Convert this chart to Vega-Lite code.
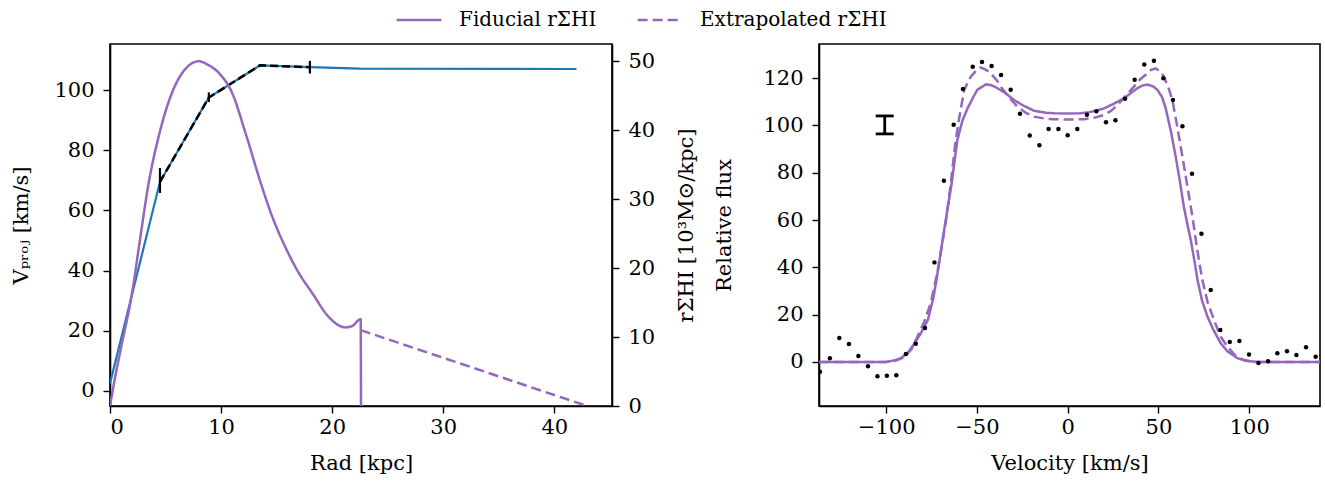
{
  "$schema": "https://vega.github.io/schema/vega-lite/v6.json",
  "background": "white",
  "padding": {"left": 10, "top": -4, "right": 5, "bottom": 0},
  "config": {
    "font": "DejaVu Serif",
    "view": {"stroke": "black", "strokeWidth": 1.6},
    "axis": {"domainColor": "black", "domainWidth": 1.6, "tickColor": "black", "tickWidth": 1.4, "tickSize": 7, "labelFont": "DejaVu Serif", "labelFontSize": 21, "labelColor": "black", "titleFont": "DejaVu Serif", "titleFontSize": 21, "titleFontWeight": "normal", "titleColor": "black", "grid": false, "labelPadding": 9, "titlePadding": 20},
    "axisX": {"labelPadding": 3},
    "concat": {"spacing": 15}
  },
  "datasets": {
    "vrot": [
      {"r": 0, "v": 2.5}, {"r": 4.5, "v": 69.5}, {"r": 8.9, "v": 97.5}, {"r": 13.5, "v": 108.2}, {"r": 18.0, "v": 107.6}, {"r": 22.5, "v": 107.1}, {"r": 42.0, "v": 107.0}
    ],
    "obsrot": [
      {"r": 4.5, "v": 69.5, "lo": 65.8, "hi": 74.1},
      {"r": 8.9, "v": 97.5, "lo": 96.0, "hi": 99.2},
      {"r": 13.5, "v": 108.2, "lo": 107.8, "hi": 108.6},
      {"r": 18.0, "v": 107.6, "lo": 105.5, "hi": 109.7}
    ],
    "sigma": [
      {"type": "Fiducial  rΣHI", "r": 0, "s": 0},
      {"type": "Fiducial  rΣHI", "r": 0.5, "s": 4.5},
      {"type": "Fiducial  rΣHI", "r": 1.0, "s": 8.5},
      {"type": "Fiducial  rΣHI", "r": 2.0, "s": 16.5},
      {"type": "Fiducial  rΣHI", "r": 2.6, "s": 23.0},
      {"type": "Fiducial  rΣHI", "r": 3.5, "s": 32.5},
      {"type": "Fiducial  rΣHI", "r": 4.4, "s": 39.2},
      {"type": "Fiducial  rΣHI", "r": 5.6, "s": 45.5},
      {"type": "Fiducial  rΣHI", "r": 6.8, "s": 48.9},
      {"type": "Fiducial  rΣHI", "r": 8.0, "s": 50.0},
      {"type": "Fiducial  rΣHI", "r": 8.8, "s": 49.5},
      {"type": "Fiducial  rΣHI", "r": 9.8, "s": 48.3},
      {"type": "Fiducial  rΣHI", "r": 11.0, "s": 45.4},
      {"type": "Fiducial  rΣHI", "r": 12.2, "s": 39.6},
      {"type": "Fiducial  rΣHI", "r": 13.7, "s": 31.7},
      {"type": "Fiducial  rΣHI", "r": 14.6, "s": 27.5},
      {"type": "Fiducial  rΣHI", "r": 15.8, "s": 23.0},
      {"type": "Fiducial  rΣHI", "r": 17.0, "s": 19.3},
      {"type": "Fiducial  rΣHI", "r": 18.2, "s": 16.4},
      {"type": "Fiducial  rΣHI", "r": 19.7, "s": 12.9},
      {"type": "Fiducial  rΣHI", "r": 20.6, "s": 11.7},
      {"type": "Fiducial  rΣHI", "r": 21.2, "s": 11.4},
      {"type": "Fiducial  rΣHI", "r": 21.8, "s": 11.6},
      {"type": "Fiducial  rΣHI", "r": 22.57, "s": 12.6},
      {"type": "Fiducial  rΣHI", "r": 22.6, "s": 0},
      {"type": "Extrapolated rΣHI", "r": 22.57, "s": 11.0},
      {"type": "Extrapolated rΣHI", "r": 42.96, "s": 0}
    ],
    "fid": [
      {"v": -137, "f": 0}, {"v": -100, "f": 0}, {"v": -95, "f": 0.8}, {"v": -92, "f": 1.6}, {"v": -88, "f": 4}, {"v": -85, "f": 7.2}, {"v": -81, "f": 12}, {"v": -77, "f": 17.8}, {"v": -74, "f": 27}, {"v": -72, "f": 36}, {"v": -70, "f": 46}, {"v": -68, "f": 56}, {"v": -64, "f": 75}, {"v": -60.8, "f": 93.8}, {"v": -58, "f": 102}, {"v": -55.3, "f": 107}, {"v": -52, "f": 112}, {"v": -49.8, "f": 115}, {"v": -45, "f": 117.4}, {"v": -42, "f": 117}, {"v": -38.7, "f": 115.7}, {"v": -34, "f": 113.5}, {"v": -29.6, "f": 110.7}, {"v": -24, "f": 108.2}, {"v": -18.6, "f": 106.2}, {"v": -12, "f": 105.3}, {"v": -7.5, "f": 105.1}, {"v": 0, "f": 105}, {"v": 7, "f": 105.1}, {"v": 12, "f": 105.6}, {"v": 16, "f": 106.3}, {"v": 20, "f": 107.2}, {"v": 25, "f": 109}, {"v": 31, "f": 111.4}, {"v": 35, "f": 113.8}, {"v": 38.4, "f": 115.7}, {"v": 41, "f": 116.8}, {"v": 43.9, "f": 117.3}, {"v": 47, "f": 116.5}, {"v": 49.4, "f": 115}, {"v": 52, "f": 112}, {"v": 54, "f": 107.2}, {"v": 57, "f": 97}, {"v": 59.5, "f": 86.8}, {"v": 62, "f": 75.5}, {"v": 64, "f": 65.6}, {"v": 66, "f": 58}, {"v": 67.8, "f": 51.6}, {"v": 70, "f": 42}, {"v": 71.5, "f": 34.7}, {"v": 74, "f": 26}, {"v": 77, "f": 19.2}, {"v": 80, "f": 14}, {"v": 84.3, "f": 7.9}, {"v": 88, "f": 4.5}, {"v": 93.5, "f": 1.6}, {"v": 98, "f": 0.5}, {"v": 104.5, "f": 0}, {"v": 139, "f": 0}
    ],
    "ext": [
      {"v": -137, "f": 0}, {"v": -100, "f": 0}, {"v": -95, "f": 0.5}, {"v": -90, "f": 2}, {"v": -86, "f": 5.5}, {"v": -82.8, "f": 10.7}, {"v": -79, "f": 17}, {"v": -75.5, "f": 24.8}, {"v": -72, "f": 37}, {"v": -70, "f": 46}, {"v": -67, "f": 60}, {"v": -64, "f": 78}, {"v": -62, "f": 92}, {"v": -60, "f": 102}, {"v": -57, "f": 115}, {"v": -53.4, "f": 120.6}, {"v": -50, "f": 123.5}, {"v": -47.9, "f": 124.5}, {"v": -45, "f": 123.5}, {"v": -42.4, "f": 122}, {"v": -39, "f": 119}, {"v": -36.9, "f": 116.4}, {"v": -32, "f": 111.5}, {"v": -27.7, "f": 107.9}, {"v": -23, "f": 105.3}, {"v": -18.6, "f": 103.7}, {"v": -12, "f": 102.8}, {"v": -7.5, "f": 102.6}, {"v": 0, "f": 102.5}, {"v": 9, "f": 102.6}, {"v": 15, "f": 103.3}, {"v": 20, "f": 104.4}, {"v": 24, "f": 106.2}, {"v": 27.4, "f": 108.6}, {"v": 32, "f": 112.5}, {"v": 36.5, "f": 116.4}, {"v": 40, "f": 119.5}, {"v": 43.9, "f": 122}, {"v": 46, "f": 123.5}, {"v": 48.5, "f": 124.1}, {"v": 51, "f": 122.8}, {"v": 53, "f": 120.6}, {"v": 55.5, "f": 116}, {"v": 57.7, "f": 110.7}, {"v": 60, "f": 101}, {"v": 63.2, "f": 86.8}, {"v": 66, "f": 74}, {"v": 68.7, "f": 61.5}, {"v": 70.5, "f": 52}, {"v": 72.5, "f": 42}, {"v": 74.2, "f": 34.7}, {"v": 77, "f": 25.5}, {"v": 80.6, "f": 17.8}, {"v": 84, "f": 11}, {"v": 88, "f": 6.5}, {"v": 92, "f": 3}, {"v": 97, "f": 0.8}, {"v": 103, "f": 0}, {"v": 139, "f": 0}
    ],
    "obs": [
      {"v": -136.5, "f": -4.1}, {"v": -131.0, "f": 1.6}, {"v": -125.8, "f": 10.1}, {"v": -120.5, "f": 7.6}, {"v": -115.3, "f": 2.5}, {"v": -110.0, "f": -1.8}, {"v": -104.8, "f": -6.0}, {"v": -99.6, "f": -5.8}, {"v": -94.4, "f": -5.6}, {"v": -89.1, "f": 3.4}, {"v": -83.7, "f": 7.7}, {"v": -78.6, "f": 14.4}, {"v": -73.4, "f": 42.1}, {"v": -68.2, "f": 76.6}, {"v": -62.8, "f": 100.3}, {"v": -57.7, "f": 115.4}, {"v": -52.3, "f": 124.8}, {"v": -47.2, "f": 126.8}, {"v": -41.9, "f": 125.1}, {"v": -36.7, "f": 121.3}, {"v": -31.4, "f": 115.1}, {"v": -26.3, "f": 104.9}, {"v": -20.9, "f": 95.7}, {"v": -15.6, "f": 91.6}, {"v": -10.5, "f": 98.5}, {"v": -5.1, "f": 98.5}, {"v": 0, "f": 95.8}, {"v": 5.3, "f": 98.5}, {"v": 10.6, "f": 104.5}, {"v": 15.8, "f": 106.0}, {"v": 21.1, "f": 101.3}, {"v": 26.3, "f": 102.2}, {"v": 31.6, "f": 111.3}, {"v": 36.9, "f": 119.3}, {"v": 42.2, "f": 125.7}, {"v": 47.5, "f": 127.3}, {"v": 52.7, "f": 119.9}, {"v": 58.0, "f": 110.7}, {"v": 63.2, "f": 99.6}, {"v": 68.5, "f": 79.6}, {"v": 73.7, "f": 54.2}, {"v": 78.8, "f": 30.4}, {"v": 84.1, "f": 13.5}, {"v": 89.3, "f": 8.5}, {"v": 94.6, "f": 8.9}, {"v": 99.9, "f": 3.2}, {"v": 105.1, "f": -0.4}, {"v": 110.4, "f": 0.3}, {"v": 115.5, "f": 3.7}, {"v": 120.8, "f": 4.5}, {"v": 126.0, "f": 3.0}, {"v": 131.3, "f": 6.2}, {"v": 136.6, "f": 2.2}
    ],
    "ebar": [{"v": -100.8, "lo": 96.4, "hi": 104.0}],
    "ecap": [{"v": -100.8, "f": 96.4}, {"v": -100.8, "f": 104.0}]
  },
  "hconcat": [
    {
      "width": 502,
      "height": 362,
      "layer": [
        {
          "layer": [
            {
              "data": {"name": "vrot"},
              "mark": {"type": "line", "color": "#1f77b4", "strokeWidth": 2.2, "clip": true},
              "encoding": {
                "x": {"field": "r", "type": "quantitative", "scale": {"domain": [0, 45.2], "nice": false, "zero": false}, "axis": {"values": [0, 10, 20, 30, 40], "title": "Rad [kpc]", "titlePadding": 15}},
                "y": {"field": "v", "type": "quantitative", "scale": {"domain": [-5, 115.3], "nice": false, "zero": false}, "axis": {"orient": "left", "values": [0, 20, 40, 60, 80, 100], "title": "Vₚᵣₒⱼ [km/s]", "titlePadding": 22}}
              }
            },
            {
              "data": {"name": "obsrot"},
              "mark": {"type": "line", "color": "black", "strokeWidth": 2.5, "strokeDash": [8, 4]},
              "encoding": {
                "x": {"field": "r", "type": "quantitative"},
                "y": {"field": "v", "type": "quantitative"}
              }
            },
            {
              "data": {"name": "obsrot"},
              "mark": {"type": "rule", "color": "black", "strokeWidth": 2.2},
              "encoding": {
                "x": {"field": "r", "type": "quantitative"},
                "y": {"field": "lo", "type": "quantitative"},
                "y2": {"field": "hi"}
              }
            }
          ]
        },
        {
          "data": {"name": "sigma"},
          "mark": {"type": "line", "color": "#9467bd", "strokeWidth": 2.5, "clip": true, "interpolate": "monotone"},
          "encoding": {
            "x": {"field": "r", "type": "quantitative"},
            "y": {"field": "s", "type": "quantitative", "scale": {"domain": [0, 52.5], "nice": false}, "axis": {"orient": "right", "values": [0, 10, 20, 30, 40, 50], "title": "rΣHI [10³M⊙/kpc]", "titleAngle": 270, "titleBaseline": "top", "titlePadding": 21}},
            "strokeDash": {
              "field": "type", "type": "nominal",
              "scale": {"domain": ["Fiducial  rΣHI", "Extrapolated rΣHI"], "range": [[1, 0], [10, 5]]},
              "legend": {"title": null, "orient": "none", "legendX": 285, "legendY": -48, "padding": 0, "direction": "horizontal", "symbolType": "stroke", "symbolSize": 2000, "symbolStrokeWidth": 2.5, "symbolStrokeColor": "#9467bd", "labelFont": "DejaVu Serif", "labelFontSize": 20, "labelColor": "black", "labelOffset": 16, "labelLimit": 400, "columnPadding": 29}
            }
          }
        }
      ],
      "resolve": {"scale": {"y": "independent"}}
    },
    {
      "width": 501,
      "height": 362,
      "layer": [
        {
          "data": {"name": "fid"},
          "mark": {"type": "line", "color": "#9467bd", "strokeWidth": 2.5, "clip": true},
          "encoding": {
            "x": {"field": "v", "type": "quantitative", "scale": {"domain": [-137, 139], "nice": false, "zero": false}, "axis": {"values": [-100, -50, 0, 50, 100], "title": "Velocity [km/s]", "titlePadding": 15}},
            "y": {"field": "f", "type": "quantitative", "scale": {"domain": [-18.6, 134.4], "nice": false, "zero": false}, "axis": {"values": [0, 20, 40, 60, 80, 100, 120], "title": "Relative flux", "titlePadding": 28}}
          }
        },
        {
          "data": {"name": "ext"},
          "mark": {"type": "line", "color": "#9467bd", "strokeWidth": 2.5, "strokeDash": [10, 5], "clip": true},
          "encoding": {
            "x": {"field": "v", "type": "quantitative"},
            "y": {"field": "f", "type": "quantitative"}
          }
        },
        {
          "data": {"name": "obs"},
          "mark": {"type": "circle", "color": "black", "size": 20, "opacity": 1, "clip": true},
          "encoding": {
            "x": {"field": "v", "type": "quantitative"},
            "y": {"field": "f", "type": "quantitative"}
          }
        },
        {
          "data": {"name": "ebar"},
          "mark": {"type": "rule", "color": "black", "strokeWidth": 2.8},
          "encoding": {
            "x": {"field": "v", "type": "quantitative"},
            "y": {"field": "lo", "type": "quantitative"},
            "y2": {"field": "hi"}
          }
        },
        {
          "data": {"name": "ecap"},
          "mark": {"type": "tick", "orient": "horizontal", "color": "black", "size": 18, "thickness": 2.8, "opacity": 1},
          "encoding": {
            "x": {"field": "v", "type": "quantitative"},
            "y": {"field": "f", "type": "quantitative"}
          }
        }
      ]
    }
  ]
}
